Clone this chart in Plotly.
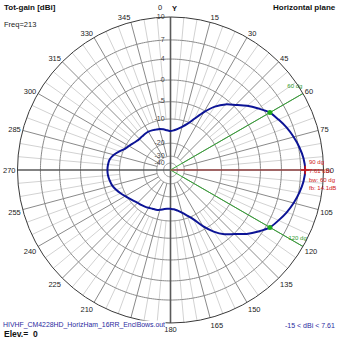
import numpy as np
import plotly.graph_objects as go

# ---- pattern data: total gain in the horizontal plane (dBi), every 5 degrees ----
ANGLES = list(range(0, 360, 5))
GAIN_DBI = [
    -15.0, -14.6, -13.8, -12.6, -10.8, -8.4, -5.4, -2.9, -1.0, 0.4,      # 0..45
    1.9, 3.3, 4.61, 5.3, 6.0, 6.6, 7.1, 7.45, 7.61, 7.45,                # 50..95
    7.1, 6.6, 6.0, 5.3, 4.61, 3.3, 1.8, 0.1, -1.4, -3.4,                 # 100..145
    -6.0, -9.0, -11.0, -12.8, -14.0, -14.8, -15.0, -15.0, -14.6, -14.0,  # 150..195
    -13.6, -13.4, -13.0, -12.6, -12.2, -11.9, -11.2, -10.4, -9.6, -8.8,  # 200..245
    -8.0, -7.3, -6.9, -6.6, -6.49, -6.6, -6.9, -7.8, -9.0, -10.3,        # 250..295
    -11.2, -12.0, -12.6, -12.9, -12.9, -12.8, -12.8, -13.0, -13.3, -13.5,  # 300..345
    -14.0, -14.6,                                                        # 350..355
]

# radial scale rings (dBi) and angular labels (deg)
RING_DB = [-40, -30, -20, -10, -5, 0, 4, 7, 10]
ANGLE_TICKS = list(range(0, 360, 15))

# beam summary
PEAK_ANGLE = 90
PEAK_GAIN = 7.61
BEAM_EDGE_ANGLES = [60, 120]
BEAM_EDGE_GAIN = 4.61
BEAMWIDTH = 60
FRONT_BACK = 14.1
MIN_GAIN = -15

# compressed (ARRL-like) radial scale: dB -> normalised radius
SCALE_FRAC = [0.045, 0.09, 0.175, 0.333, 0.446, 0.588, 0.725, 0.85, 1.0]


def to_r(g):
    return np.interp(g, RING_DB, SCALE_FRAC)


MAJOR = "#8a8a8a"
MINOR = "#d2d2d2"
AXIS = "#5a5a5a"
FONT = "Liberation Sans, Arial, sans-serif"

fig = go.Figure()

# minor spokes every 5 degrees
th, rr = [], []
for a in range(0, 360, 5):
    if a % 15:
        th += [a, a, None]
        rr += [float(to_r(-10)), 1.0, None]
fig.add_trace(go.Scatterpolar(theta=th, r=rr, mode="lines",
                              line=dict(color=MINOR, width=1), hoverinfo="skip"))

# major spokes every 15 degrees
th, rr = [], []
for a in ANGLE_TICKS:
    if a % 90:
        th += [a, a, None]
        rr += [float(to_r(-30)), 1.0, None]
fig.add_trace(go.Scatterpolar(theta=th, r=rr, mode="lines",
                              line=dict(color=MAJOR, width=1), hoverinfo="skip"))

# gain rings
circ = np.arange(0, 361, 1)
th, rr = [], []
for g in RING_DB[:-1]:
    th += list(circ) + [None]
    rr += [float(to_r(g))] * len(circ) + [None]
fig.add_trace(go.Scatterpolar(theta=th, r=rr, mode="lines",
                              line=dict(color=MAJOR, width=1), hoverinfo="skip"))

# main X / Y axes
fig.add_trace(go.Scatterpolar(theta=[0, 0, None, 90, 90], r=[1, 0, None, 1, 0],
                              mode="lines", line=dict(color=AXIS, width=1.6),
                              hoverinfo="skip"))
fig.add_trace(go.Scatterpolar(theta=[180, 180, None, 270, 270], r=[1, 0, None, 1, 0],
                              mode="lines", line=dict(color=AXIS, width=1.6),
                              hoverinfo="skip"))

# radial scale labels along the 0-degree axis
fig.add_trace(go.Scatterpolar(
    theta=[0] * len(RING_DB), r=[float(to_r(g)) for g in RING_DB],
    mode="text", text=[f"{g}\u00a0\u00a0\u00a0" for g in RING_DB],
    textposition="middle left",
    textfont=dict(family=FONT, size=7, color="#444444"), hoverinfo="skip"))

# beam-edge markers (green)
th, rr = [], []
for a in BEAM_EDGE_ANGLES:
    th += [a, a, None]
    rr += [0, 1.0, None]
fig.add_trace(go.Scatterpolar(theta=th, r=rr, mode="lines",
                              line=dict(color="#35a535", width=1), hoverinfo="skip"))
fig.add_trace(go.Scatterpolar(
    theta=[56, 118.5], r=[0.98, 0.945], mode="text",
    text=[f"{BEAM_EDGE_ANGLES[0]} dg", f"{BEAM_EDGE_ANGLES[1]} dg"],
    textfont=dict(family=FONT, size=6, color="#2e9a2e"), hoverinfo="skip"))

# peak direction (red)
fig.add_trace(go.Scatterpolar(theta=[PEAK_ANGLE, PEAK_ANGLE], r=[0, 1.0], mode="lines",
                              line=dict(color="#c04848", width=1), hoverinfo="skip"))

# radiation pattern
fig.add_trace(go.Scatterpolar(
    theta=ANGLES + [ANGLES[0]], r=list(to_r(np.array(GAIN_DBI + [GAIN_DBI[0]]))),
    mode="lines", line=dict(color="#0c1496", width=2, shape="spline", smoothing=0.8),
    hoverinfo="skip"))

fig.add_trace(go.Scatterpolar(
    theta=BEAM_EDGE_ANGLES, r=[float(to_r(BEAM_EDGE_GAIN))] * 2, mode="markers",
    marker=dict(color="#1faa1f", size=5), hoverinfo="skip"))
fig.add_trace(go.Scatterpolar(
    theta=[PEAK_ANGLE], r=[float(to_r(PEAK_GAIN))], mode="markers",
    marker=dict(color="#d01818", size=6, symbol="cross-thin",
                line=dict(color="#d01818", width=1.5)), hoverinfo="skip"))

# the 0-degree label is written with the Y axis name beside it
ticktext = [str(a) for a in ANGLE_TICKS]
ticktext[0] = ""

fig.update_layout(
    width=339, height=339, margin=dict(l=0, r=0, t=0, b=0),
    paper_bgcolor="white", showlegend=False,
    polar=dict(
        domain=dict(x=[0.0516, 0.9543], y=[0.0472, 0.9499]),
        bgcolor="white",
        radialaxis=dict(range=[0, 1], visible=False, showgrid=False),
        angularaxis=dict(
            rotation=90, direction="clockwise",
            tickmode="array", tickvals=ANGLE_TICKS, ticktext=ticktext,
            showgrid=False, ticks="", showline=True,
            linecolor="#3a3a3a", linewidth=1,
            tickfont=dict(family=FONT, size=7.5, color="#222222"),
        ),
    ),
)

RED = "#d02020"
BLUE_TXT = "#2a2aa0"
ann = [
    dict(text="<b>Tot-gain [dBi]</b>", x=0.008, y=0.993, size=8, color="#111111",
         xanchor="left", yanchor="top"),
    dict(text="Freq=213", x=0.008, y=0.928, size=7.5, color="#222222",
         xanchor="left", yanchor="middle"),
    dict(text="<b>Horizontal plane</b>", x=0.993, y=0.993, size=8, color="#111111",
         xanchor="right", yanchor="top"),
    dict(text="0", x=0.472, y=0.979, size=7.5, color="#222222",
         xanchor="center", yanchor="middle"),
    dict(text="<b>Y</b>", x=0.516, y=0.974, size=7.5, color="#111111",
         xanchor="center", yanchor="middle"),
    dict(text="HIVHF_CM4228HD_HorizHam_16RR_EnclBows.out", x=0.006, y=0.0412,
         size=6.9, color=BLUE_TXT, xanchor="left", yanchor="middle",
         bg="white"),
    dict(text="<b>Elev.=\u00a0\u00a00</b>", x=0.008, y=0.0147, size=8.5,
         color="#111111", xanchor="left", yanchor="middle"),
    dict(text=f"{MIN_GAIN} < dBi < {PEAK_GAIN}", x=0.99, y=0.0412, size=7,
         color=BLUE_TXT, xanchor="right", yanchor="middle"),
    dict(text=f"{PEAK_ANGLE} dg", x=0.9086, y=0.522, size=6, color=RED,
         xanchor="left", yanchor="middle"),
    dict(text=f"{PEAK_GAIN} dBi", x=0.9086, y=0.497, size=6, color=RED,
         xanchor="left", yanchor="middle"),
    dict(text=f"bw: {BEAMWIDTH} dg", x=0.9086, y=0.469, size=6, color=RED,
         xanchor="left", yanchor="middle"),
    dict(text=f"fb: {FRONT_BACK}dB", x=0.9086, y=0.444, size=6, color=RED,
         xanchor="left", yanchor="middle"),
]
fig.update_layout(annotations=[
    dict(text=a["text"], x=a["x"], y=a["y"], xref="paper", yref="paper",
         xanchor=a["xanchor"], yanchor=a["yanchor"], showarrow=False,
         bgcolor=a.get("bg", "rgba(0,0,0,0)"), borderpad=0,
         font=dict(family=FONT, size=a["size"], color=a["color"]))
    for a in ann
])

fig.write_html("out.html")
